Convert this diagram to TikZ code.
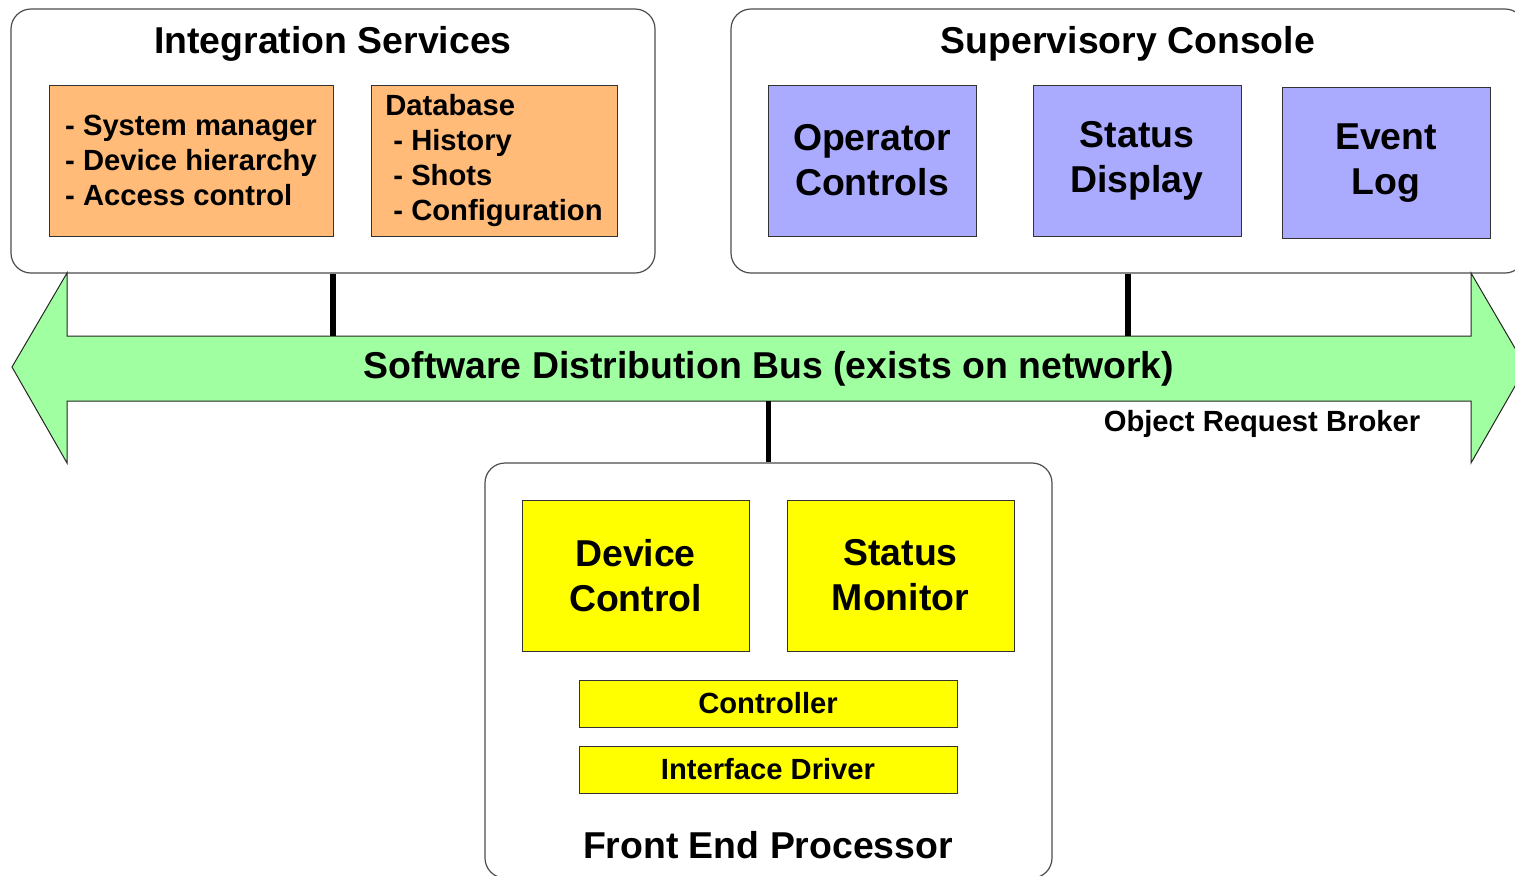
\documentclass[tikz,border=0pt]{standalone}
\usepackage{fontspec}
\setmainfont{Liberation Sans}
\newcommand{\bigtxt}{\fontsize{18.7}{22.5}\selectfont\bfseries}
\newcommand{\smalltxt}{\fontsize{14.6}{17.6}\selectfont\bfseries}
\definecolor{orangefill}{HTML}{FFBB77}
\definecolor{bluefill}{HTML}{AAAAFF}
\definecolor{busfill}{HTML}{A0FFA0}
\definecolor{yellowfill}{HTML}{FFFF00}
\tikzset{
  groupbox/.style={draw=black!70, line width=0.6pt, rounded corners=10pt, inner sep=0pt},
  orangebox/.style={draw=black!80, line width=0.5pt, fill=orangefill, inner sep=0pt, font=\smalltxt, align=left},
  bluebox/.style={draw=black!80, line width=0.5pt, fill=bluefill, inner sep=0pt, font=\bigtxt, align=center,
    minimum width=104pt, minimum height=75.5pt},
  yellowbox/.style={draw=black!80, line width=0.5pt, fill=yellowfill, inner sep=0pt, align=center},
  link/.style={line width=2.6pt}
}
\begin{document}
\begin{tikzpicture}[x=0.5pt, y=-0.5pt]
  \useasboundingbox (0,0) rectangle (1515,875);

  % containers
  \node[groupbox, minimum width=322pt, minimum height=132pt] (intsvc) at (333,141) {};
  \node[groupbox, minimum width=397pt, minimum height=132pt] (console) at (1128,141) {};
  \node[groupbox, minimum width=283.5pt, minimum height=207.5pt] (fep) at (768.5,670.5) {};

  \node[font=\bigtxt, anchor=base] (inttitle) at (333,53) {Integration Services};
  \node[font=\bigtxt, anchor=base] (contitle) at (1128,53) {Supervisory Console};
  \node[font=\bigtxt, anchor=base] (feptitle) at (768,858) {Front End Processor};

  % integration services
  \node[orangebox, minimum width=142pt, minimum height=75.5pt] (sysmgr) at (191,160.5)
    {- System manager\\- Device hierarchy\\- Access control};
  \node[orangebox, minimum width=123pt, minimum height=75.5pt] (database) at (494,160.5)
    {Database\\~- History\\~- Shots\\~- Configuration};

  % supervisory console
  \node[bluebox] (opctl) at (872,160.5) {Operator\\Controls};
  \node[bluebox] (statdisp) at (1137,160.5) {Status\\Display};
  \node[bluebox] (eventlog) at (1386,163) {Event\\Log};

  % bus
  \draw[fill=busfill, line width=0.5pt, draw=black!85]
    (12,367) -- (67,273) -- (67,336) -- (1471,336) -- (1471,273) -- (1526,367)
    -- (1471,463) -- (1471,401) -- (67,401) -- (67,463) -- cycle;
  \node[font=\bigtxt, minimum width=702pt, minimum height=32.5pt, inner sep=0pt] (bus) at (769,368.5)
    {Software Distribution Bus (exists on network)};
  \node[font=\smalltxt] (orb) at (1262,424) {Object Request Broker};

  % front end processor
  \node[yellowbox, font=\bigtxt, minimum width=113.5pt, minimum height=75.5pt] (devctl) at (635.5,575.5) {Device\\Control};
  \node[yellowbox, font=\bigtxt, minimum width=113.5pt, minimum height=75.5pt] (statmon) at (900.5,575.5) {Status\\Monitor};
  \node[yellowbox, font=\smalltxt, minimum width=189pt, minimum height=23.5pt] (ctrl) at (768,703.5) {Controller};
  \node[yellowbox, font=\smalltxt, minimum width=189pt, minimum height=23.5pt] (ifdrv) at (768,769.5) {Interface Driver};

  % connections to the bus
  \draw[link] (intsvc.south) -- (intsvc.south |- bus.north);
  \draw[link] (console.south) -- (console.south |- bus.north);
  \draw[link] (bus.south -| fep.north) -- (fep.north);
\end{tikzpicture}
\end{document}
